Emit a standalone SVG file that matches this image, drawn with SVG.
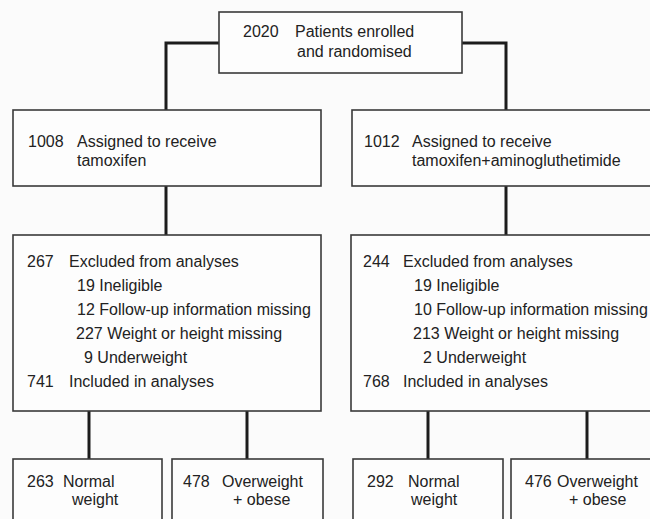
<svg xmlns="http://www.w3.org/2000/svg" width="650" height="519" viewBox="0 0 650 519">
<style>
.box{fill:#fdfdfd;stroke:#3a3a3a;stroke-width:1.6}
.con{fill:none;stroke:#1c1c1c;stroke-width:3}
text{font-family:"Liberation Sans",Arial,sans-serif;font-size:16px;fill:#222}
</style>
<rect x="0" y="0" width="650" height="519" fill="#fbfbfb"/>
<g id="connectors">
<path class="con" d="M219 43H166V110"/>
<path class="con" d="M462 43H506V110"/>
<path class="con" d="M166 186V235"/>
<path class="con" d="M506 186V235"/>
<path class="con" d="M89 411V459"/>
<path class="con" d="M247 411V459"/>
<path class="con" d="M428 411V459"/>
<path class="con" d="M587 411V459"/>
</g>
<g id="n-enrolled">
<rect class="box" x="219" y="12" width="243" height="61"/>
<text x="243" y="37">2020</text>
<text x="295" y="37">Patients enrolled</text>
<text x="297" y="57">and randomised</text>
</g>
<g id="n-tam">
<rect class="box" x="13" y="110" width="308" height="76"/>
<text x="28" y="147">1008</text>
<text x="77" y="147">Assigned to receive</text>
<text x="77" y="166">tamoxifen</text>
</g>
<g id="n-tamag">
<rect class="box" x="352" y="110" width="310" height="76"/>
<text x="364" y="147">1012</text>
<text x="412" y="147">Assigned to receive</text>
<text x="412" y="166">tamoxifen+aminogluthetimide</text>
</g>
<g id="n-excl-left">
<rect class="box" x="13" y="235" width="308" height="176"/>
<text x="27" y="267">267</text>
<text x="69" y="267">Excluded from analyses</text>
<text x="77" y="291">19 Ineligible</text>
<text x="77" y="315">12 Follow-up information missing</text>
<text x="76" y="339">227 Weight or height missing</text>
<text x="84" y="363">9 Underweight</text>
<text x="27" y="387">741</text>
<text x="69" y="387">Included in analyses</text>
</g>
<g id="n-excl-right">
<rect class="box" x="351" y="235" width="311" height="176"/>
<text x="363" y="267">244</text>
<text x="403" y="267">Excluded from analyses</text>
<text x="414" y="291">19 Ineligible</text>
<text x="414" y="315">10 Follow-up information missing</text>
<text x="413" y="339">213 Weight or height missing</text>
<text x="423" y="363">2 Underweight</text>
<text x="363" y="387">768</text>
<text x="403" y="387">Included in analyses</text>
</g>
<g id="n-normal-left">
<rect class="box" x="13" y="459" width="149" height="70"/>
<text x="27" y="487">263</text>
<text x="63" y="487">Normal</text>
<text x="72" y="505">weight</text>
</g>
<g id="n-over-left">
<rect class="box" x="172" y="459" width="151" height="70"/>
<text x="183" y="487">478</text>
<text x="222" y="487">Overweight</text>
<text x="233" y="505">+ obese</text>
</g>
<g id="n-normal-right">
<rect class="box" x="353" y="459" width="150" height="70"/>
<text x="367" y="487">292</text>
<text x="408" y="487">Normal</text>
<text x="411" y="505">weight</text>
</g>
<g id="n-over-right">
<rect class="box" x="511" y="459" width="151" height="70"/>
<text x="525" y="487">476</text>
<text x="557" y="487">Overweight</text>
<text x="569" y="505">+ obese</text>
</g>
</svg>
